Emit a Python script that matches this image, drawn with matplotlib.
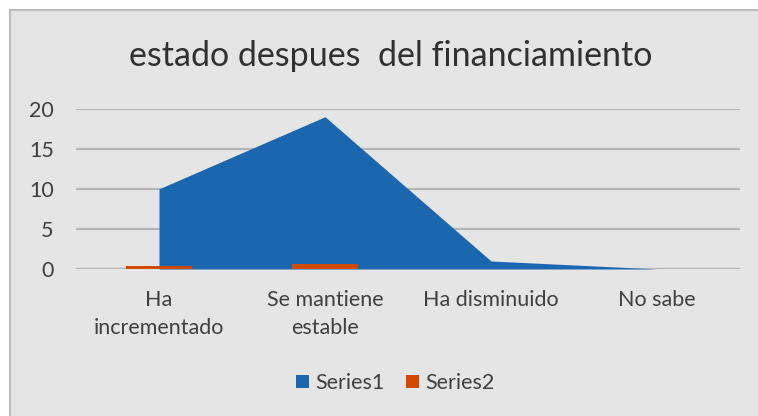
import matplotlib
matplotlib.use('Agg')
import matplotlib.pyplot as plt
import numpy as np
from matplotlib.patches import Rectangle

# Data
categories = ["Ha\nincrementado", "Se mantiene\nestable", "Ha disminuido", "No sabe"]
series1 = [10, 19, 1, 0]
series2 = [0.33, 0.63, 0.03, 0]

plt.rcParams['font.family'] = ['Lato', 'DejaVu Sans']

W, H = 758, 416
fig = plt.figure(figsize=(W / 100, H / 100), dpi=100)
fig.patch.set_facecolor('white')

# chart area background with grey border (extends past right/bottom edge)
fig.patches.append(Rectangle((10 / W, -0.05), 1.0, 1 - 10 / H + 0.05,
                             transform=fig.transFigure, facecolor='#e5e5e5',
                             edgecolor='#bdbdbd', linewidth=1.5, zorder=-1))

ax = fig.add_axes([76 / W, (H - 269) / H, (740 - 76) / W, (269 - 108.7) / H])
ax.set_facecolor('none')
ax.set_zorder(2)

x = np.arange(len(categories))
ax.fill_between(x, series1, 0, color='#1a67b0', linewidth=0, zorder=2,
                label='Series1')
ax.bar(x, series2, width=0.4, color='#d14a04', zorder=3, label='Series2')

ax.set_xlim(-0.5, len(categories) - 0.5)
ax.set_ylim(0, 20)
ax.set_yticks([0, 5, 10, 15, 20])
ax.yaxis.grid(True, color='#b5b5b5', linewidth=1.6, zorder=1)
ax.set_axisbelow(True)
for s in ax.spines.values():
    s.set_visible(False)

ax.set_xticks(x)
ax.set_xticklabels(categories, fontsize=15.5, color='#404040', linespacing=1.5)
ax.tick_params(axis='x', length=0, pad=15)
ax.tick_params(axis='y', length=0, pad=16, labelsize=15.5, labelcolor='#404040')

fig.text(391 / W, 1 - 56 / H, "estado despues  del financiamiento",
         ha='center', va='center', fontsize=24.5, color='#303030')

fig.legend(loc='center', bbox_to_anchor=(395 / W, 1 - 383 / H), ncol=2,
           frameon=False, fontsize=15.5, handlelength=0.6, handleheight=0.6,
           handletextpad=0.3, columnspacing=1.0, labelcolor='#404040')

fig.savefig('out.png', dpi=100)
